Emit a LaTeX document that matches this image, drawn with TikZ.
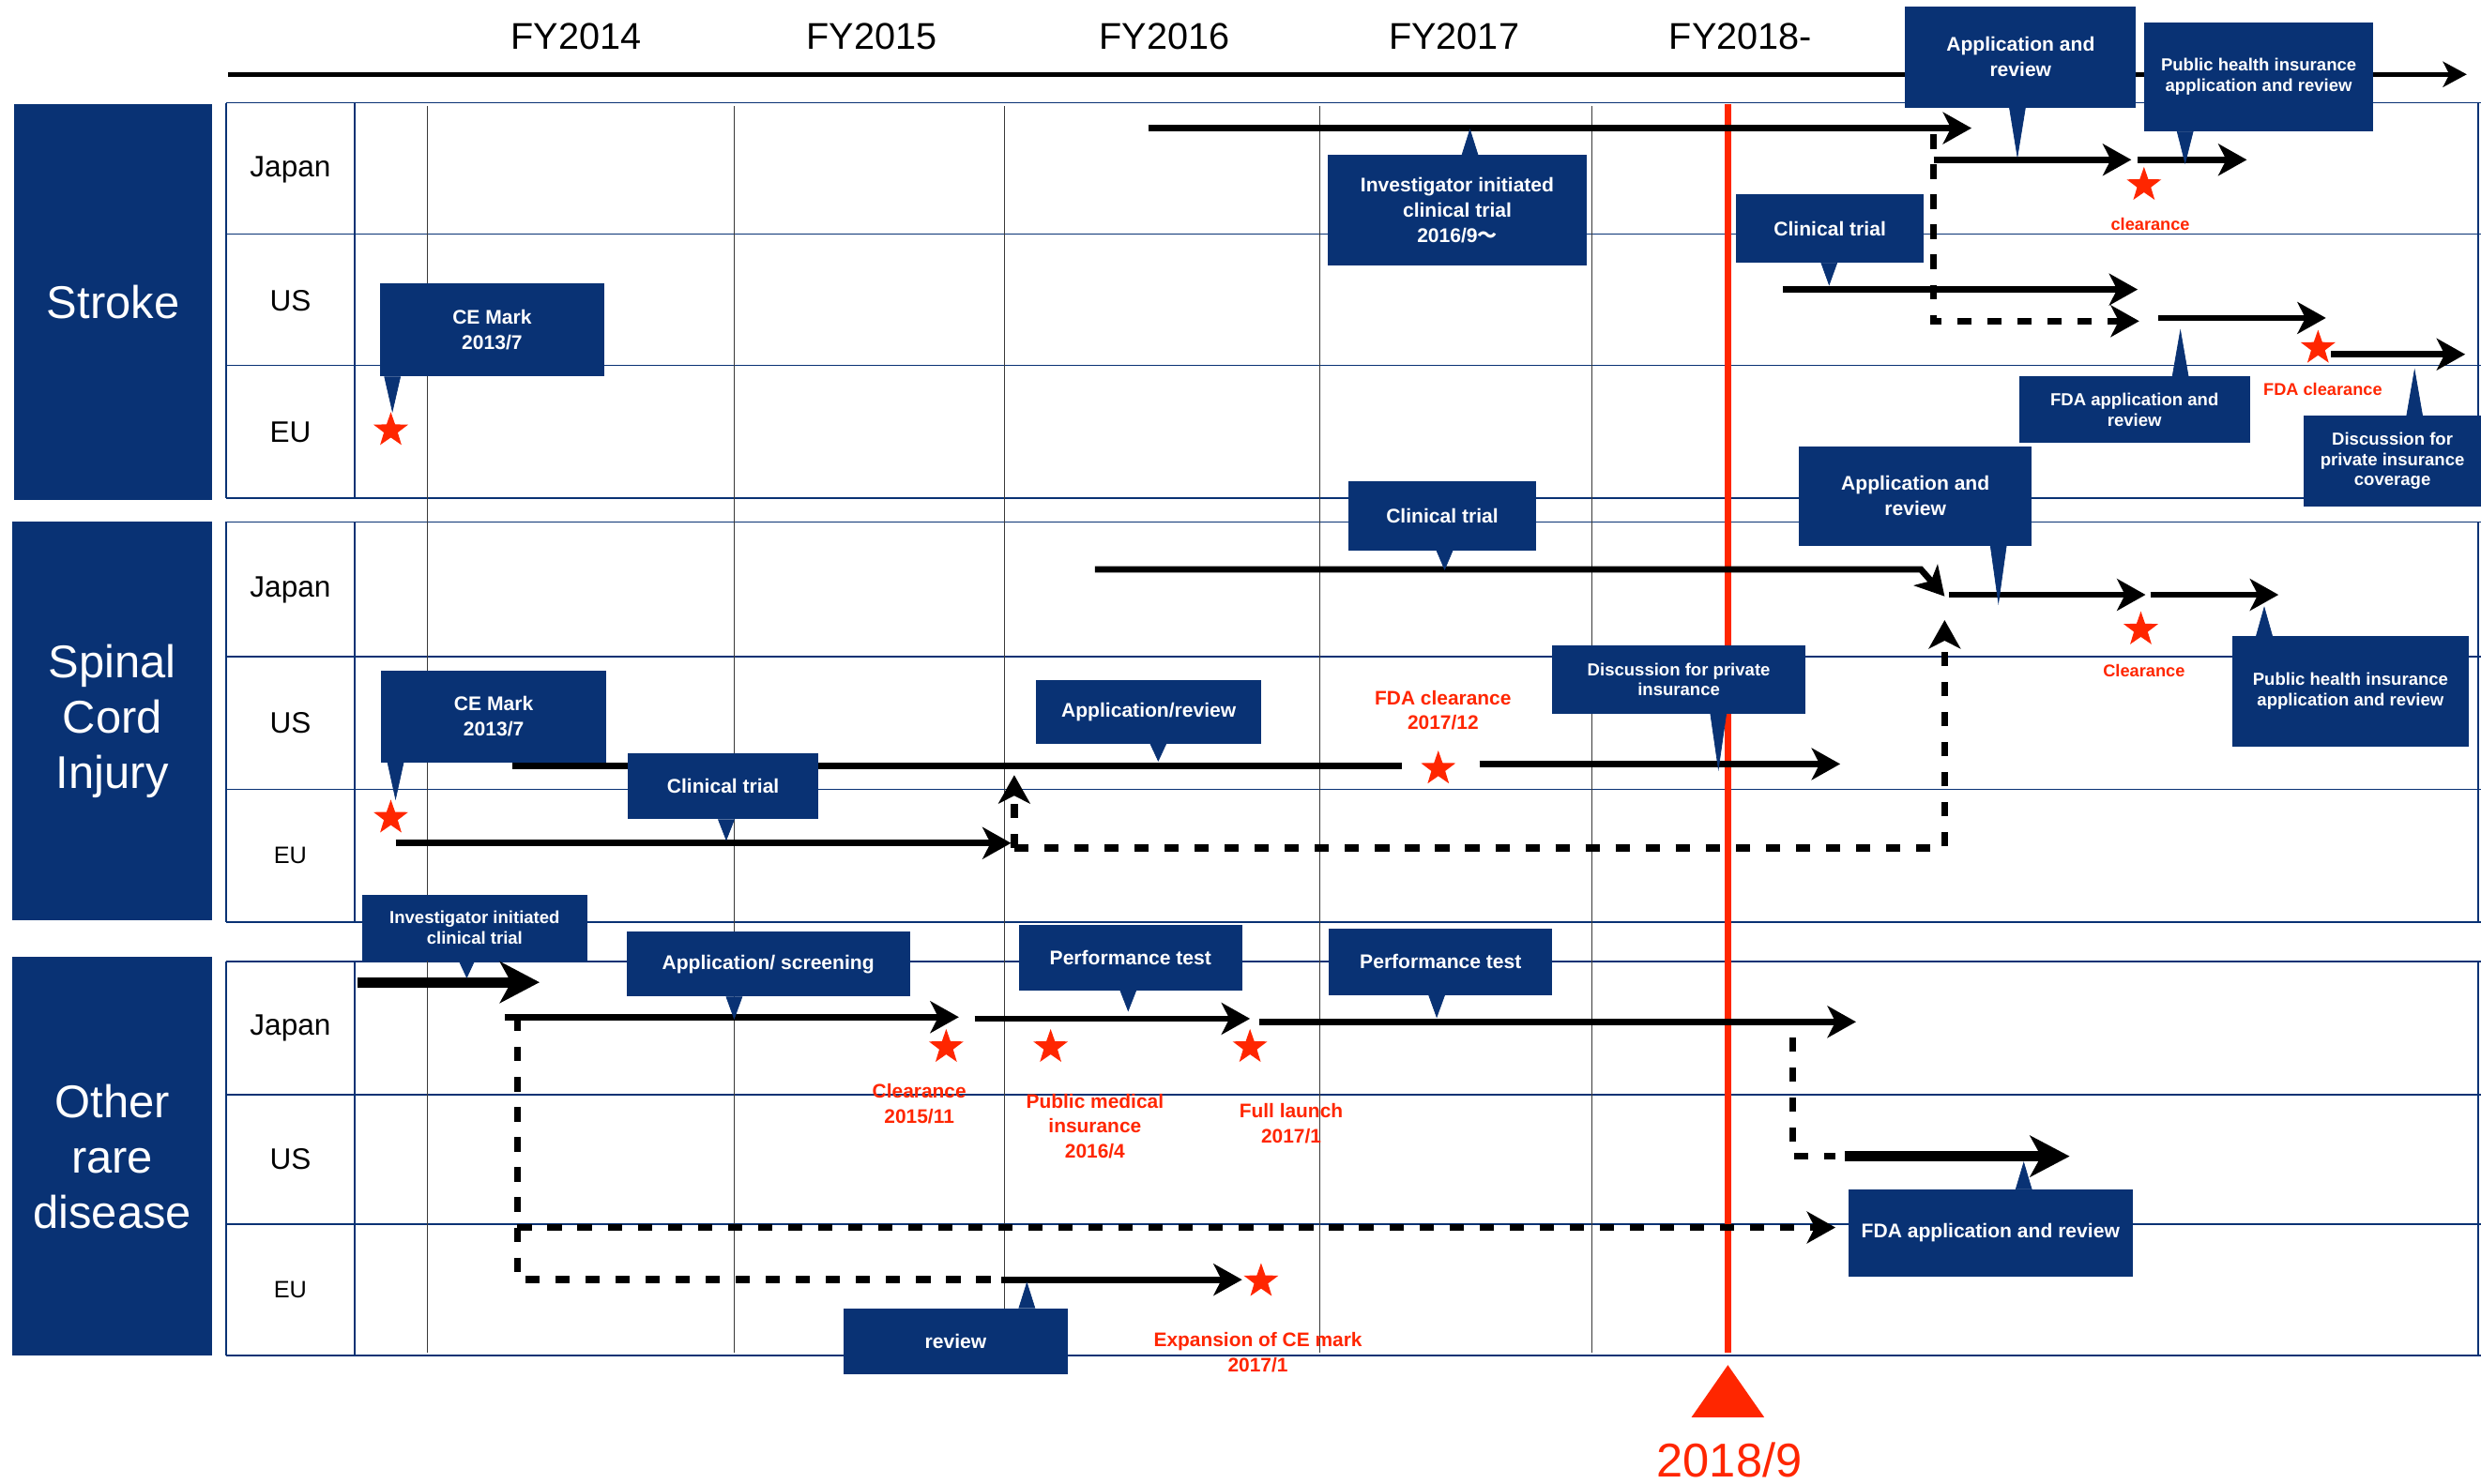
\documentclass[tikz,border=0pt]{standalone}
\usepackage{fontspec}
\setmainfont{Liberation Sans}
\newfontfamily\cjk{Noto Sans CJK JP}
\usetikzlibrary{arrows.meta,shapes.geometric,calc}
\definecolor{cblue}{RGB}{9,50,116}
\definecolor{cred}{RGB}{255,38,0}
\tikzset{
  catbox/.style={fill=cblue,text=white,align=center,inner sep=0pt,font=\fontsize{29}{35}\selectfont},
  ctry/.style={font=\fontsize{18.7}{22}\selectfont},
  ctrys/.style={font=\fontsize{15}{18}\selectfont},
  fy/.style={font=\fontsize{23.5}{28}\selectfont},
  cbox/.style={fill=cblue,text=white,align=center,inner sep=0pt,font=\bfseries\fontsize{12.5}{16}\selectfont},
  cboxs/.style={cbox,font=\bfseries\fontsize{11}{12.8}\selectfont},
  rtxt/.style={text=cred,align=center,inner sep=0pt,font=\bfseries\fontsize{12.4}{16}\selectfont},
  rtxts/.style={rtxt,font=\bfseries\fontsize{10.8}{13}\selectfont},
  bar/.style={line width=4pt,-{Stealth[length=18pt,width=20pt,inset=5pt]}},
  bigbar/.style={line width=6.4pt,-{Stealth[length=25pt,width=26pt,inset=7pt]}},
  dotline/.style={line width=4.5pt,dash pattern=on 9pt off 10pt},
  dotbar/.style={dotline,-{Stealth[length=18pt,width=20pt,inset=5pt]}},
  mstar/.style={star,star points=5,star point ratio=2.5,fill=cred,minimum size=23pt,inner sep=0pt},
  gridln/.style={cblue,line width=1pt},
  yrln/.style={gray!45!black,line width=0.8pt}
}
% pointer of a callout box: box, apex, side of the box
\newcommand{\calltail}[3]{\filldraw[cblue,line width=0.4pt] ($(#2 |- #1.#3)+(-5pt,0)$) -- ($(#2 |- #1.#3)+(5pt,0)$) -- (#2) -- cycle;}
\begin{document}
\begin{tikzpicture}[x=1pt,y=-1pt]
\useasboundingbox (0,0) rectangle (1568,938);
\fill[white] (0,0) rectangle (1568,938);

% grid
\foreach \y in {65,148,231,315,330,415,499,583,608,692,774,857}
  \draw[gridln] (143,\y) -- (1568,\y);
\foreach \a/\b in {65/315,330/583,608/857} {
  \draw[gridln] (143,\a) -- (143,\b);
  \draw[gridln] (224,\a) -- (224,\b);
  \draw[gridln] (1566,\a) -- (1566,\b);
}
\foreach \x in {270,464,635,834,1006}
  \draw[yrln] (\x,67) -- (\x,855);

% time axis
\foreach \t/\x in {FY2014/364,FY2015/551,FY2016/736,FY2017/919,FY2018-/1100}
  \node[fy] (\t) at (\x,23) {\t};
\draw[line width=3pt,-{Stealth[length=15pt,width=16pt,inset=4pt]}] (144,47) -- (1559,47);

% categories
\node[catbox,minimum width=125pt,minimum height=250pt] (stroke) at (71.5,191) {Stroke};
\node[catbox,minimum width=126pt,minimum height=252pt] (spinal) at (71,456) {Spinal\\Cord\\Injury};
\node[catbox,minimum width=126pt,minimum height=252pt] (other) at (71,731) {Other\\rare\\disease};
\node[ctry] (sJP) at (183.5,107) {Japan};
\node[ctry] (sUS) at (183.5,190) {US};
\node[ctry] (sEU) at (183.5,273) {EU};
\node[ctry] (cJP) at (183.5,373) {Japan};
\node[ctry] (cUS) at (183.5,457) {US};
\node[ctrys] (cEU) at (183.5,541) {EU};
\node[ctry] (oJP) at (183.5,650) {Japan};
\node[ctry] (oUS) at (183.5,733) {US};
\node[ctrys] (oEU) at (183.5,815.5) {EU};

% now
\draw[cred,line width=4pt] (1092,66) -- (1092,855);
\fill[cred] (1092,863) -- (1115,896) -- (1069,896) -- cycle;
\node[text=cred,font=\fontsize{30}{34}\selectfont,anchor=base,inner sep=0pt] (now) at (1093,934) {2018/9};

% stroke
\draw[bar] (726,81) -- (1246,81);
\draw[dotbar] (1222,85) -- (1222,203) -- (1352,203);
\draw[bar] (1222,101) -- (1347,101);
\draw[bar] (1351,101) -- (1420,101);
\draw[bar] (1127,183) -- (1351,183);
\draw[bar] (1364,201) -- (1470,201);
\draw[bar] (1473,224) -- (1558,224);
\node[mstar] (s1) at (247,272) {};
\node[mstar] (s2) at (1355,117) {};
\node[mstar] (s3) at (1465,220) {};

% spinal cord injury
\draw[bar] (692,360) -- (1214,360) -- (1229,377);
\draw[bar] (1232,376) -- (1356,376);
\draw[bar] (1359,376) -- (1440,376);
\draw[line width=4pt] (324,484) -- (886,484);
\draw[bar] (935,483) -- (1163,483);
\draw[bar] (250,533) -- (639,533);
\draw[dotbar] (641,536) -- (641,490);
\draw[dotbar] (641,536) -- (1229,536) -- (1229,392);
\node[mstar] (c1) at (247,517) {};
\node[mstar] (c2) at (909,486) {};
\node[mstar] (c3) at (1353,398) {};

% other rare disease
\draw[bigbar] (226,621) -- (341,621);
\draw[bar] (319,643) -- (606,643);
\draw[bar] (616,644) -- (790,644);
\draw[bar] (796,646) -- (1173,646);
\draw[dotline] (327,643) -- (327,809) -- (627,809);
\draw[dotbar] (327,776) -- (1160,776);
\draw[dotline] (1133,656) -- (1133,731) -- (1160,731);
\draw[bigbar] (1166,731) -- (1308,731);
\draw[bar] (633,809) -- (785,809);
\node[mstar] (o1) at (598,662) {};
\node[mstar] (o2) at (664,662) {};
\node[mstar] (o3) at (790,662) {};
\node[mstar] (o4) at (797,810) {};

% callouts, stroke
\node[cbox,minimum width=142pt,minimum height=59pt] (sCE) at (311,208.5) {CE Mark\\2013/7};
\coordinate (sCEp) at (248,260);
\calltail{sCE}{sCEp}{south}
\node[cbox,minimum width=164pt,minimum height=70pt] (sIIT) at (921,133) {Investigator initiated\\clinical trial\\2016/9{\cjk 〜}};
\coordinate (sIITp) at (929,82);
\calltail{sIIT}{sIITp}{north}
\node[cbox,minimum width=146pt,minimum height=64pt] (sApp) at (1277,36) {Application and\\review};
\coordinate (sAppp) at (1275,99);
\calltail{sApp}{sAppp}{south}
\node[cboxs,minimum width=145pt,minimum height=69pt] (sPub) at (1427.5,48.5) {Public health insurance\\application and review};
\coordinate (sPubp) at (1381,103);
\calltail{sPub}{sPubp}{south}
\node[cbox,minimum width=119pt,minimum height=43pt] (sCT) at (1156.5,144.5) {Clinical trial};
\coordinate (sCTp) at (1156,180);
\calltail{sCT}{sCTp}{south}
\node[cboxs,minimum width=146pt,minimum height=42pt] (sFDA) at (1349,259) {FDA application and\\review};
\coordinate (sFDAp) at (1378,209);
\calltail{sFDA}{sFDAp}{north}
\node[cboxs,minimum width=112pt,minimum height=57pt] (sDis) at (1512,291.5) {Discussion for\\private insurance\\coverage};
\coordinate (sDisp) at (1526,234);
\calltail{sDis}{sDisp}{north}

% callouts, spinal cord injury
\node[cbox,minimum width=119pt,minimum height=44pt] (cCT) at (911.5,326) {Clinical trial};
\coordinate (cCTp) at (913,360);
\calltail{cCT}{cCTp}{south}
\node[cbox,minimum width=147pt,minimum height=63pt] (cApp) at (1210.5,313.5) {Application and\\review};
\coordinate (cAppp) at (1263,381);
\calltail{cApp}{cAppp}{south}
\node[cbox,minimum width=142pt,minimum height=58pt] (cCE) at (312,453) {CE Mark\\2013/7};
\coordinate (cCEp) at (250,505);
\calltail{cCE}{cCEp}{south}
\node[cbox,minimum width=120pt,minimum height=42pt] (cCT2) at (457,497) {Clinical trial};
\coordinate (cCT2p) at (459,531);
\calltail{cCT2}{cCT2p}{south}
\node[cbox,minimum width=142pt,minimum height=40pt] (cRev) at (726,450) {Application/review};
\coordinate (cRevp) at (732,481);
\calltail{cRev}{cRevp}{south}
\node[cboxs,minimum width=160pt,minimum height=43pt] (cDis) at (1061,429.5) {Discussion for private\\insurance};
\coordinate (cDisp) at (1086,486);
\calltail{cDis}{cDisp}{south}
\node[cboxs,minimum width=149pt,minimum height=70pt] (cPub) at (1485.5,437) {Public health insurance\\application and review};
\coordinate (cPubp) at (1431,384);
\calltail{cPub}{cPubp}{north}

% callouts, other rare disease
\node[cboxs,minimum width=142pt,minimum height=41pt] (oIIT) at (300,586.5) {Investigator initiated\\clinical trial};
\coordinate (oIITp) at (295,618);
\calltail{oIIT}{oIITp}{south}
\node[cbox,minimum width=179pt,minimum height=41pt] (oScr) at (485.5,609.5) {Application/ screening};
\coordinate (oScrp) at (464,644);
\calltail{oScr}{oScrp}{south}
\node[cbox,minimum width=141pt,minimum height=41pt] (oPT1) at (714.5,605.5) {Performance test};
\coordinate (oPT1p) at (713,639);
\calltail{oPT1}{oPT1p}{south}
\node[cbox,minimum width=141pt,minimum height=42pt] (oPT2) at (910.5,608) {Performance test};
\coordinate (oPT2p) at (908,643);
\calltail{oPT2}{oPT2p}{south}
\node[cbox,minimum width=142pt,minimum height=42pt] (oRev) at (604,848) {review};
\coordinate (oRevp) at (649,811);
\calltail{oRev}{oRevp}{north}
\node[cbox,minimum width=180pt,minimum height=55pt] (oFDA) at (1258,779.5) {FDA application and review};
\coordinate (oFDAp) at (1279,735);
\calltail{oFDA}{oFDAp}{north}

% milestones
\node[rtxts] (sClr) at (1359,142) {clearance};
\node[rtxts] (sFDAc) at (1468,246) {FDA clearance};
\node[rtxt] (cFDAc) at (912,449) {FDA clearance\\2017/12};
\node[rtxts] (cClr) at (1355,424) {Clearance};
\node[rtxt] (oClr) at (581,698) {Clearance\\2015/11};
\node[rtxt] (oPub) at (692,712) {Public medical\\insurance\\2016/4};
\node[rtxt] (oFull) at (816,710) {Full launch\\2017/1};
\node[rtxt] (oCE) at (795,855) {Expansion of CE mark\\2017/1};
\end{tikzpicture}
\end{document}
